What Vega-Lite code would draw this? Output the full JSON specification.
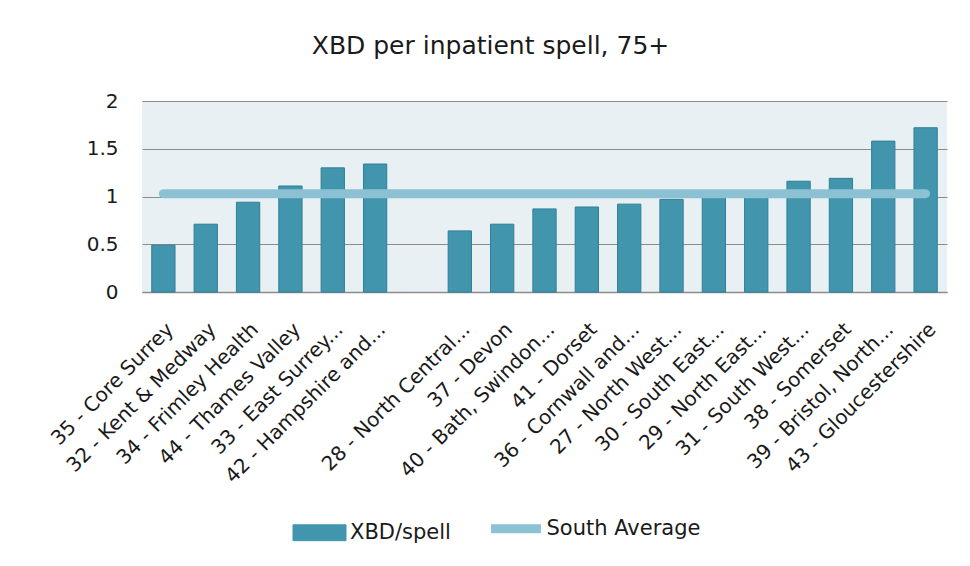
{
  "$schema": "https://vega.github.io/schema/vega-lite/v6.json",
  "width": 805,
  "height": 191,
  "autosize": {"type": "none"},
  "padding": {"left": 142, "top": 101, "right": 23, "bottom": 274},
  "background": "white",
  "title": {"text": "XBD per inpatient spell, 75+", "font": "DejaVu Sans", "fontSize": 25, "fontWeight": "normal", "color": "#1a1a1a", "anchor": "middle", "dx": -54, "offset": 32},
  "config": {"view": {"fill": "#e9f0f4", "stroke": null}, "font": "DejaVu Sans"},
  "datasets": {
    "bars": [
      {"region": "35 - Core Surrey", "value": 0.49, "series": "XBD/spell"},
      {"region": "32 - Kent & Medway", "value": 0.71, "series": "XBD/spell"},
      {"region": "34 - Frimley Health", "value": 0.94, "series": "XBD/spell"},
      {"region": "44 - Thames Valley", "value": 1.11, "series": "XBD/spell"},
      {"region": "33 - East Surrey...", "value": 1.30, "series": "XBD/spell"},
      {"region": "42 - Hampshire and...", "value": 1.34, "series": "XBD/spell"},
      {"region": "28 - North Central...", "value": 0.64, "series": "XBD/spell"},
      {"region": "37 - Devon", "value": 0.71, "series": "XBD/spell"},
      {"region": "40 - Bath, Swindon...", "value": 0.87, "series": "XBD/spell"},
      {"region": "41 - Dorset", "value": 0.89, "series": "XBD/spell"},
      {"region": "36 - Cornwall and...", "value": 0.92, "series": "XBD/spell"},
      {"region": "27 - North West...", "value": 0.97, "series": "XBD/spell"},
      {"region": "30 - South East...", "value": 1.01, "series": "XBD/spell"},
      {"region": "29 - North East...", "value": 1.02, "series": "XBD/spell"},
      {"region": "31 - South West...", "value": 1.16, "series": "XBD/spell"},
      {"region": "38 - Somerset", "value": 1.19, "series": "XBD/spell"},
      {"region": "39 - Bristol, North...", "value": 1.58, "series": "XBD/spell"},
      {"region": "43 - Gloucestershire", "value": 1.72, "series": "XBD/spell"}
    ],
    "avg": [
      {"region": "35 - Core Surrey", "value": 1.03, "series": "South Average"},
      {"region": "32 - Kent & Medway", "value": 1.03, "series": "South Average"},
      {"region": "34 - Frimley Health", "value": 1.03, "series": "South Average"},
      {"region": "44 - Thames Valley", "value": 1.03, "series": "South Average"},
      {"region": "33 - East Surrey...", "value": 1.03, "series": "South Average"},
      {"region": "42 - Hampshire and...", "value": 1.03, "series": "South Average"},
      {"region": " ", "value": 1.03, "series": "South Average"},
      {"region": "28 - North Central...", "value": 1.03, "series": "South Average"},
      {"region": "37 - Devon", "value": 1.03, "series": "South Average"},
      {"region": "40 - Bath, Swindon...", "value": 1.03, "series": "South Average"},
      {"region": "41 - Dorset", "value": 1.03, "series": "South Average"},
      {"region": "36 - Cornwall and...", "value": 1.03, "series": "South Average"},
      {"region": "27 - North West...", "value": 1.03, "series": "South Average"},
      {"region": "30 - South East...", "value": 1.03, "series": "South Average"},
      {"region": "29 - North East...", "value": 1.03, "series": "South Average"},
      {"region": "31 - South West...", "value": 1.03, "series": "South Average"},
      {"region": "38 - Somerset", "value": 1.03, "series": "South Average"},
      {"region": "39 - Bristol, North...", "value": 1.03, "series": "South Average"},
      {"region": "43 - Gloucestershire", "value": 1.03, "series": "South Average"}
    ]
  },
  "encoding": {
    "x": {
      "field": "region",
      "type": "nominal",
      "sort": null,
      "scale": {
        "domain": ["35 - Core Surrey", "32 - Kent & Medway", "34 - Frimley Health", "44 - Thames Valley", "33 - East Surrey...", "42 - Hampshire and...", " ", "28 - North Central...", "37 - Devon", "40 - Bath, Swindon...", "41 - Dorset", "36 - Cornwall and...", "27 - North West...", "30 - South East...", "29 - North East...", "31 - South West...", "38 - Somerset", "39 - Bristol, North...", "43 - Gloucestershire"],
        "paddingInner": 0.45,
        "paddingOuter": 0.23
      },
      "axis": {
        "title": null,
        "labelAngle": -45,
        "labelAlign": "right",
        "labelBaseline": "top",
        "labelFontSize": 20,
        "labelColor": "#1a1a1a",
        "labelFont": "DejaVu Sans",
        "labelLimit": 0,
        "labelPadding": 27,
        "ticks": false,
        "domainColor": "#8c8c8c",
        "domainWidth": 1.5,
        "grid": false
      }
    },
    "y": {
      "field": "value",
      "type": "quantitative",
      "scale": {"domain": [0, 2], "nice": false},
      "axis": {
        "title": null,
        "values": [0, 0.5, 1, 1.5, 2],
        "format": "~g",
        "grid": true,
        "gridColor": "#8c8c8c",
        "gridWidth": 1,
        "domain": false,
        "ticks": false,
        "labelPadding": 24,
        "labelFontSize": 20,
        "labelColor": "#1a1a1a",
        "labelFont": "DejaVu Sans"
      }
    }
  },
  "layer": [
    {
      "data": {"name": "bars"},
      "mark": {"type": "bar", "stroke": "#2f7f96", "strokeWidth": 1, "opacity": 1},
      "encoding": {
        "color": {
          "field": "series",
          "type": "nominal",
          "scale": {"domain": ["XBD/spell", "South Average"], "range": ["#4196ae", "#8cc0d3"]},
          "legend": {
            "title": null,
            "orient": "none",
            "direction": "horizontal",
            "legendX": 167,
            "legendY": 417,
            "padding": 0,
            "labelFontSize": 21,
            "labelFont": "DejaVu Sans",
            "labelColor": "#1a1a1a",
            "labelOffset": 20,
            "columnPadding": 21.5,
            "symbolSize": 2809,
            "symbolType": {"expr": "datum.value === 'XBD/spell' ? 'M-1,-0.3H1V0.3H-1Z' : 'M-0.94,0H0.94'"},
            "symbolStrokeColor": {"expr": "datum.value === 'XBD/spell' ? '#2f7f96' : '#8cc0d3'"},
            "symbolStrokeWidth": {"expr": "datum.value === 'XBD/spell' ? 1 : 9"}
          }
        }
      }
    },
    {
      "data": {"name": "avg"},
      "mark": {"type": "line", "strokeWidth": 9, "strokeCap": "round", "opacity": 1},
      "encoding": {
        "color": {"field": "series", "type": "nominal", "legend": null}
      }
    }
  ]
}
